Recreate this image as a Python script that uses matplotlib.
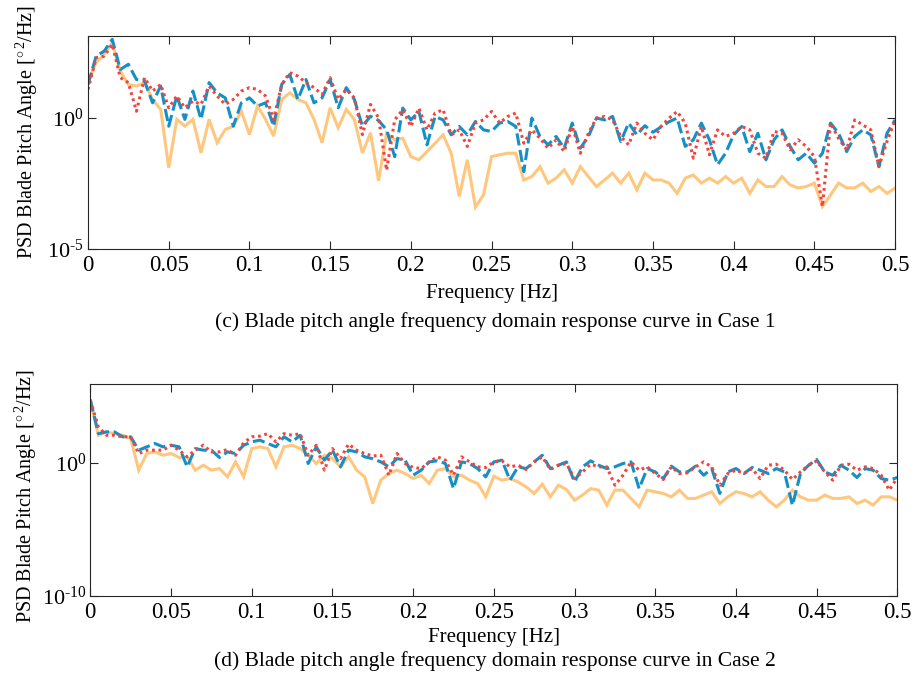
import numpy as np
import matplotlib
matplotlib.use('Agg')
import matplotlib.pyplot as plt
from matplotlib.ticker import FixedLocator, FixedFormatter, NullLocator

plt.rcParams['font.family'] = ['Liberation Serif', 'DejaVu Serif']
plt.rcParams['mathtext.fontset'] = 'custom'
plt.rcParams['mathtext.rm'] = 'Liberation Serif'
plt.rcParams['mathtext.it'] = 'Liberation Serif:italic'

# frequency grid (Hz), 0.005 Hz step
freq = np.linspace(0, 0.5, 101)

# Case 1, log10 of PSD
case1_blue = [1.27, 2.35, 2.54, 2.99, 1.84, 2.04, 1.46, 1.40, 0.57, 1.21, -0.32, 0.83, -0.06, 1.02, -0.06, 1.34, 0.95, 0.76, -0.32, 0.57,
              0.76, 0.45, 0.57, -0.32, 1.27, 1.65, 0.70, 1.46, 0.57, 0.76, 1.46, 0.38, 1.15, 0.70, -0.32, 0.06, -0.10,
              -0.46, -1.48, 0.37, -0.08, 0.24, -1.03, 0.05, -0.08, -0.65, -0.33, -0.65, -0.14, -0.46, -0.52, -0.20, -0.14, -0.33,
              -2.05, -0.01, -0.71, -1.03, -0.71, -1.16, -0.20, -1.16, -0.71, -0.01, -0.08, 0.05, -0.90, -0.20, -0.65,
              -0.30, -0.55, -0.35, -0.15, -0.01, -1.09, -0.84, -0.20, -0.84, -1.79, -1.35, -0.65, -0.33, -1.29, -0.59, -1.60,
              -0.84, -0.46, -1.09, -1.60, -1.35, -1.73, -1.35, -0.20, -0.59, -1.29, -0.71, -0.46, -0.65, -1.86, -0.59, -0.08]
case1_red = [1.08, 2.29, 2.35, 2.80, 1.53, 1.34, 0.25, 1.53, 1.02, 1.27, 0.38, 0.83, 0.38, 0.64, 0.51, 1.21, 0.83, 0.51, 0.70, 1.02,
             1.15, 1.08, 0.83, -0.06, 1.27, 1.72, 1.59, 1.34, 1.15, 0.89, 1.53, 0.70, 1.08, 0.76, -0.64, 0.51, 0.0,
             -2.0, -0.08, 0.31, -0.33, 0.37, -0.46, 0.18, 0.31, -0.65, -0.46, -1.09, -0.20, -0.08, 0.24, -0.20, 0.05, 0.18,
             -0.97, -0.46, -0.78, -1.16, -0.84, -1.29, -0.33, -1.35, -0.59, -0.01, 0.05, -0.08, -0.71, -1.03, -0.20,
             -0.59, -0.84, -0.33, -0.01, 0.24, -0.20, -1.54, -0.33, -1.41, -0.46, -0.71, -0.59, -0.33, -0.46, -1.35, -1.54,
             -0.52, -0.59, -1.22, -0.84, -1.09, -1.48, -3.38, -0.20, -0.78, -1.22, -0.08, -0.27, -0.46, -1.86, -0.90, -0.08]
case1_orange = [1.34, 2.10, 2.42, 2.86, 1.78, 1.27, 1.21, 1.34, 0.70, 0.32, -1.90, -0.06, -0.32, -0.06, -1.34, -0.06, -0.95, -0.45, -0.32, 0.25,
                -0.64, 0.45, -0.06, -0.70, 0.70, 0.95, 0.70, 0.57, -0.06, -0.95, 0.38, -0.38, 0.32, -0.06, -1.34, -0.57, -2.40,
                -0.59, -0.84, -0.78, -1.48, -1.60, -1.29, -0.97, -0.65, -1.35, -3.00, -1.60, -3.40, -2.94, -1.48, -1.41, -1.35, -1.35,
                -2.37, -2.24, -1.86, -2.49, -2.30, -1.98, -2.49, -1.86, -2.24, -2.62, -2.37, -2.11, -2.49, -2.11, -2.75,
                -2.11, -2.37, -2.37, -2.49, -2.88, -2.30, -2.18, -2.49, -2.30, -2.49, -2.24, -2.49, -2.30, -2.88, -2.37, -2.62,
                -2.62, -2.24, -2.56, -2.67, -2.62, -2.49, -3.38, -2.94, -2.49, -2.67, -2.67, -2.49, -2.81, -2.62, -2.88, -2.68]

# Case 2
case2_blue = [4.73, 2.18, 2.31, 2.31, 1.94, 1.94, 0.94, 1.19, 1.44, 1.19, 1.31, 1.19, -0.31, 1.06, 0.94, 0.94, 0.39, 0.81, 0.69, 1.31,
              1.56, 1.69, 1.44, 1.19, 1.94, 1.56, 2.06, -0.06, 1.19, 0.19, 0.94, -0.31, 0.94, 0.81, 0.44, 0.30,
              0.06, -0.31, 0.31, 0.19, -0.94, -0.56, 0.06, 0.14, -0.06, -1.94, 0.06, -0.06, -0.44, -1.06, 0.06, 0.19, -1.31,
              -0.31, -0.44, 0.06, 0.56, -0.44, -0.19, 0.06, -1.44, -0.31, 0.14, -0.19, -0.44, -0.31, -0.06, 0.06, -1.94,
              -0.44, -0.69, -1.19, -0.26, -0.69, -0.69, -0.26, -0.94, -0.44, -2.30, -0.69, -0.44, -0.81, -0.36, -0.56, -0.81,
              -0.44, -0.69, -3.20, -0.81, -0.19, 0.24, -0.69, -0.94, -0.19, -0.56, -1.11, -0.44, -0.56, -1.19, -1.31, -1.11]
case2_red = [4.68, 2.68, 2.06, 2.06, 1.94, 1.94, 0.69, 0.94, 0.94, 0.94, 1.31, 0.94, 0.44, 0.94, 1.31, 0.81, 0.81, 0.99, 0.56, 1.49,
             1.94, 1.99, 2.18, 1.56, 2.18, 2.06, 2.18, 0.56, 1.31, -0.56, 1.06, 0.31, 1.39, 0.94, 0.69, 0.50,
             0.56, -0.94, 0.69, -0.06, -0.36, -0.44, 0.06, 0.44, 0.19, -0.94, 0.44, 0.06, -0.31, -0.36, 0.06, 0.14, -0.31,
             -0.19, -0.51, 0.06, 0.44, -0.51, -0.19, -0.06, -1.19, -0.69, -0.11, -0.31, -0.31, -1.69, -0.94, 0.06, -0.56,
             -0.31, -0.81, -1.26, -0.31, -0.81, -0.76, -0.31, 0.06, -0.31, -1.69, -0.81, -0.56, -0.81, -0.44, -1.19, -0.19,
             -0.11, -0.56, -1.26, -0.69, -0.19, 0.14, -0.69, -1.31, -0.19, -0.11, -0.56, -0.31, -0.44, -0.94, -2.06, -1.11]
case2_orange = [4.63, 2.06, 2.31, 2.18, 2.06, 1.81, -0.56, 0.69, 0.81, 0.56, 0.69, 0.39, 0.44, -0.56, -0.19, -0.56, -0.44, -1.06, 0.06, -1.06,
                1.06, 1.19, 1.06, -0.31, 1.19, 1.31, 1.06, 0.56, -0.06, 0.56, 0.31, -0.31, 0.44, -0.56, -1.06, -3.06,
                -1.31, -0.81, -0.56, -0.81, -1.19, -0.94, -1.56, -0.56, -0.44, -1.06, -0.94, -1.31, -1.56, -2.56, -1.01, -1.31, -1.19,
                -1.44, -1.81, -2.31, -1.61, -2.56, -1.69, -2.01, -2.81, -2.43, -1.94, -2.06, -3.18, -2.06, -2.06, -2.68, -3.31,
                -2.06, -2.18, -2.31, -2.56, -2.06, -2.68, -2.68, -2.43, -2.18, -3.06, -2.56, -2.18, -2.31, -2.56, -2.18, -2.81,
                -3.31, -2.81, -2.06, -2.56, -2.81, -2.81, -2.43, -2.68, -2.68, -2.56, -3.06, -2.81, -3.18, -2.56, -2.56, -2.81]

xticks = [0, 0.05, 0.1, 0.15, 0.2, 0.25, 0.3, 0.35, 0.4, 0.45, 0.5]
xticklabels = ['0', '0.05', '0.1', '0.15', '0.2', '0.25', '0.3', '0.35', '0.4', '0.45', '0.5']
yticks1 = [1e-5, 1e0]
yticklabels1 = [r'$10^{\text{-}5}$', r'$10^{0}$']
yticks2 = [1e-10, 1e0]
yticklabels2 = [r'$10^{\text{-}10}$', r'$10^{0}$']

c_blue = '#1590C6'
c_red = '#F3433B'
c_orange = '#FFC77E'
fs = 15

fig = plt.figure(figsize=(9.15, 6.79), dpi=100)
ax1 = fig.add_axes([0.0962, 0.6333, 0.882, 0.3130])
ax2 = fig.add_axes([0.0987, 0.1222, 0.882, 0.3122])


def draw(ax, blue, red, orange, ylim, yticks, yticklabels, caption, cap_y, xpad, ylab_pos):
    ax.plot(freq, 10 ** np.array(orange), color=c_orange, lw=2.2, solid_joinstyle='miter')
    ax.plot(freq, 10 ** np.array(blue), color=c_blue, lw=2.2, dashes=(4, 1.5))
    ax.plot(freq, 10 ** np.array(red), color=c_red, lw=2.2, dashes=(0.9, 1.2))
    ax.set_yscale('log')
    ax.set_xlim(0, 0.5)
    ax.set_ylim(*ylim)
    ax.yaxis.set_major_locator(FixedLocator(yticks))
    ax.yaxis.set_major_formatter(FixedFormatter(yticklabels))
    ax.yaxis.set_minor_locator(NullLocator())
    ax.set_xticks(xticks)
    ax.set_xticklabels(xticklabels)
    ax.tick_params(direction='in', top=True, right=True, length=6, width=0.8,
                   color='#262626', pad=4)
    ax.tick_params(axis='x', labelsize=16.5)
    ax.tick_params(axis='y', labelsize=16, pad=3)
    for s in ax.spines.values():
        s.set_color('#262626')
        s.set_linewidth(0.8)
    ax.set_xlabel('Frequency [Hz]', fontsize=fs, labelpad=xpad)
    ax.set_ylabel(r'PSD Blade Pitch Angle [$^{\circ\,2}$/Hz]', fontsize=14.5)
    ax.yaxis.set_label_coords(*ylab_pos)
    fig.text(0.541, cap_y, caption, ha='center', va='center', fontsize=15.5)


draw(ax1, case1_blue, case1_red, case1_orange, (1e-5, 10 ** 3.1), yticks1, yticklabels1,
     '(c) Blade pitch angle frequency domain response curve in Case 1', 1 - 322 / 679,
     6, (-0.059, 0.55))
draw(ax2, case2_blue, case2_red, case2_orange, (1e-10, 10 ** 5.9), yticks2, yticklabels2,
     '(d) Blade pitch angle frequency domain response curve in Case 2', 1 - 661 / 679,
     4, (-0.063, 0.47))

fig.savefig('out.png', dpi=100)
